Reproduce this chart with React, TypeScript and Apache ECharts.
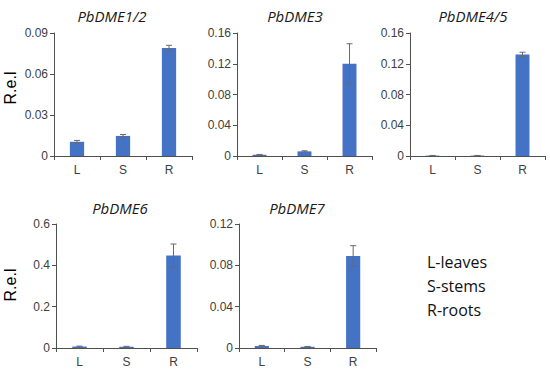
import React, { useEffect, useRef } from "react";
import * as echarts from "echarts";

const categories = ["L", "S", "R"];
const titles = ["PbDME1/2", "PbDME3", "PbDME4/5", "PbDME6", "PbDME7"];
const values = [
  [0.0104, 0.0147, 0.079],
  [0.0015, 0.006, 0.12],
  [0.0005, 0.0005, 0.132],
  [0.007, 0.006, 0.447],
  [0.002, 0.0012, 0.089],
];
const errors = [
  [0.001, 0.001, 0.002],
  [0.0005, 0.0008, 0.026],
  [0.0002, 0.0002, 0.003],
  [0.002, 0.002, 0.056],
  [0.0005, 0.0003, 0.010],
];
const yMax = [0.09, 0.16, 0.16, 0.6, 0.12];
const yStep = [0.03, 0.04, 0.04, 0.2, 0.04];
const legendLines = ["L-leaves", "S-stems", "R-roots"];

const grids = [
  { left: 54, top: 33, width: 138, height: 123 },
  { left: 237, top: 33, width: 135, height: 123 },
  { left: 410, top: 33, width: 135, height: 123 },
  { left: 56, top: 224, width: 141, height: 124 },
  { left: 239, top: 224, width: 137, height: 124 },
];
const titlePos = [
  [112, 16],
  [295, 16],
  [473, 16],
  [120, 208],
  [297, 208],
];

const AXIS = "#505050";
const LABEL = "#404040";

export default function App() {
  const ref = useRef<HTMLDivElement>(null);
  useEffect(() => {
    if (!ref.current) return;
    const chart = echarts.init(ref.current, undefined, { renderer: "svg" });
    const fmt = (v: number) => (v === 0 ? "0" : String(parseFloat(v.toFixed(3))));
    const series: any[] = [];
    values.forEach((vals, i) => {
      series.push({
        type: "bar",
        xAxisIndex: i,
        yAxisIndex: i,
        data: vals,
        barWidth: "31%",
        itemStyle: { color: "#4472C4" },
      });
      series.push({
        type: "custom",
        xAxisIndex: i,
        yAxisIndex: i,
        z: 5,
        data: vals.map((v, k) => [k, v, errors[i][k]]),
        renderItem: (params: any, api: any) => {
          const x = api.value(0);
          const v = api.value(1);
          const e = api.value(2);
          const top = api.coord([x, v + e]);
          const bot = api.coord([x, Math.max(0, v - e)]);
          const cw = 3;
          const st = { stroke: "#6a6a6a", lineWidth: 1 };
          return {
            type: "group",
            children: [
              { type: "line", shape: { x1: top[0], y1: top[1], x2: bot[0], y2: bot[1] }, style: st },
              { type: "line", shape: { x1: top[0] - cw, y1: top[1], x2: top[0] + cw, y2: top[1] }, style: st },
              { type: "line", shape: { x1: bot[0] - cw, y1: bot[1], x2: bot[0] + cw, y2: bot[1] }, style: st },
            ],
          };
        },
      });
    });
    const graphics: any[] = [];
    titles.forEach((t, i) => {
      graphics.push({
        type: "text",
        x: titlePos[i][0],
        y: titlePos[i][1],
        style: {
          text: t,
          fontFamily: "Open Sans",
          fontStyle: "italic",
          fontWeight: "normal",
          fontSize: 15,
          fill: "#1a1a1a",
          textAlign: "center",
          textVerticalAlign: "middle",
        },
      });
    });
    [88, 285].forEach((y) => {
      graphics.push({
        type: "text",
        x: 10,
        y,
        rotation: Math.PI / 2,
        style: {
          text: "R.e.l",
          fontFamily: "Liberation Sans",
          fontWeight: "normal",
          fontSize: 16,
          fill: "#000",
          textAlign: "center",
          textVerticalAlign: "middle",
        },
      });
    });
    legendLines.forEach((t, i) => {
      graphics.push({
        type: "text",
        x: 427,
        y: 262 + i * 24,
        style: {
          text: t,
          fontFamily: "Open Sans",
          fontWeight: "normal",
          fontSize: 16,
          fill: "#111",
          textAlign: "left",
          textVerticalAlign: "middle",
        },
      });
    });
    chart.setOption({
      animation: false,
      grid: grids.map((g) => ({ ...g, containLabel: false })),
      xAxis: grids.map((_, i) => ({
        type: "category",
        gridIndex: i,
        data: categories,
        axisLine: { lineStyle: { color: AXIS } },
        axisTick: { show: true, length: 4, lineStyle: { color: AXIS } },
        axisLabel: { color: LABEL, fontSize: 12, fontFamily: "Liberation Sans", margin: 8 },
      })),
      yAxis: grids.map((_, i) => ({
        type: "value",
        gridIndex: i,
        min: 0,
        max: yMax[i],
        interval: yStep[i],
        splitLine: { show: false },
        axisLine: { show: true, lineStyle: { color: AXIS } },
        axisTick: { show: true, length: 4, lineStyle: { color: AXIS } },
        axisLabel: {
          color: LABEL,
          fontSize: 12,
          fontFamily: "Liberation Sans",
          margin: 6,
          formatter: fmt,
        },
      })),
      series,
      graphic: graphics,
    });
    return () => chart.dispose();
  }, []);
  return (
    <div
      ref={ref}
      style={{ position: "fixed", left: 0, top: 0, width: 550, height: 372, background: "#fff" }}
    />
  );
}
